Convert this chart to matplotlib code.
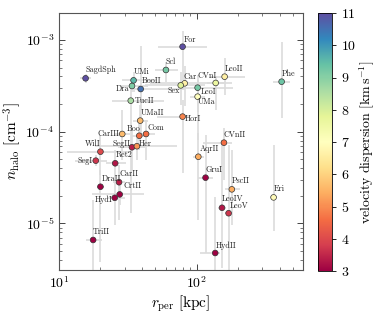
import matplotlib
matplotlib.use("Agg")
import matplotlib.pyplot as plt
import numpy as np

plt.rcParams['font.family'] = ['cmr10', 'DejaVu Serif']
plt.rcParams['mathtext.fontset'] = 'cm'
plt.rcParams['axes.formatter.use_mathtext'] = True
plt.rcParams['axes.unicode_minus'] = False

names = ["For", "SagdSph", "Scl", "UMi", "BooII", "Dra", "TucII", "UMaII",
         "Car", "Sex", "CVnI", "LeoII", "LeoI", "UMa", "Phe", "HorI",
         "CVnII", "AqrII", "GruI", "PscII", "Eri", "LeoIV", "LeoV", "HydII",
         "CarIII", "Boo", "Com", "SegII", "Her", "WilI", "SegI", "Ret2",
         "DraII", "CarII", "CrtII", "HydI", "TriII"]
r_per = [79, 15.6, 59.8, 34.8, 39.2, 33.9, 33.2, 38.9,
         81.8, 76.6, 137.4, 159.6, 101.6, 101.6, 414, 79,
         157.8, 102.8, 116, 180, 362, 152.8, 170.6, 136.4,
         28.8, 38.3, 42.9, 33.9, 36.8, 20.0, 18.5, 25.6,
         20.0, 27.3, 27.6, 25.4, 17.7]
r_lo = [52.4, 14.2, 49.8, 28.7, 35.6, 27.7, 24.2, 34.5,
        45.8, 42.2, 118.6, 124.6, 75.7, 89.6, 358, 51.5,
        110.6, 94.5, 101.9, 160, 341, 142, 160, 105.7,
        25.5, 33.9, 37.5, 26.8, 18.3, 11.4, 13.1, 21.8,
        18.9, 24.7, 17.4, 22.7, 15.7]
r_hi = [118.9, 17.1, 73.5, 51.5, 82.2, 44.2, 57.9, 44.2,
        180, 115, 157.5, 224, 183, 115, 475, 89.6,
        180, 113, 131.5, 207, 381, 164, 180, 147,
        32.8, 42.9, 49.8, 42.2, 72.2, 32.8, 22.3, 30.5,
        21.2, 30.2, 41.4, 30.2, 20.5]
n_halo = [8.45e-4, 3.82e-4, 4.71e-4, 3.63e-4, 2.92e-4, 3.15e-4, 2.18e-4, 1.32e-4,
          3.37e-4, 3.2e-4, 3.4e-4, 3.98e-4, 3.02e-4, 2.41e-4, 3.51e-4, 1.46e-4,
          7.59e-5, 5.33e-5, 3.15e-5, 2.35e-5, 1.92e-5, 1.48e-5, 1.29e-5, 4.75e-6,
          9.44e-5, 9.03e-5, 9.44e-5, 6.76e-5, 6.94e-5, 6.05e-5, 4.83e-5, 4.52e-5,
          2.51e-5, 2.81e-5, 2.07e-5, 1.9e-5, 6.59e-6]
n_lo = [3.66e-4, 3.4e-4, 3.48e-4, 2.71e-4, 9.2e-5, 2.71e-4, 1.3e-5, 8.1e-5,
        1.9e-4, 1.96e-4, 1.72e-4, 2.54e-4, 1.64e-4, 8.1e-5, 1.41e-4, 3.54e-5,
        2.97e-5, 1.09e-5, 4.75e-6, 9.6e-6, 8.2e-6, 3.3e-6, 3.1e-6, 3.1e-6,
        4.9e-5, 6.3e-5, 4.9e-5, 3.83e-5, 4.9e-5, 3.38e-5, 4.2e-5, 2.97e-5,
        3.8e-6, 1.09e-5, 1.59e-5, 9.6e-6, 3.1e-6]
n_hi = [1.25e-3, 4.26e-4, 5.75e-4, 4.48e-4, 8.6e-4, 3.66e-4, 3.23e-4, 1.96e-4,
        5.2e-4, 4.48e-4, 4.05e-4, 6.37e-4, 4.15e-4, 3.66e-4, 9.5e-4, 2.22e-4,
        1.1e-4, 9.7e-5, 9.2e-5, 6.3e-5, 7.2e-5, 8.1e-5, 7.2e-5, 1.94e-5,
        1.73e-4, 1.34e-4, 1.34e-4, 1.04e-4, 8.5e-5, 9.2e-5, 5.6e-5, 6.3e-5,
        3.83e-5, 4.3e-5, 2.63e-5, 2.97e-5, 1.8e-5]
sigma_v = [11.0, 11.0, 9.2, 9.5, 10.5, 9.1, 8.6, 5.6,
           6.6, 7.9, 7.6, 6.6, 9.2, 7.0, 9.3, 4.9,
           4.6, 5.4, 2.9, 5.4, 6.9, 3.3, 3.7, 3.0,
           5.6, 4.6, 4.6, 3.4, 5.1, 4.0, 3.7, 3.3,
           3.0, 3.4, 2.7, 2.7, 3.0]

# label placement (pixel offsets, ha, va)
label_pos = {
    "For": (1, 3, 'left', 'bottom'), "SagdSph": (0, 4, 'left', 'bottom'),
    "Scl": (0, 4, 'left', 'bottom'), "UMi": (0, 4, 'left', 'bottom'),
    "BooII": (1, 4, 'left', 'bottom'), "Dra": (-3, -3, 'right', 'center'),
    "TucII": (4, 0, 'left', 'center'), "UMaII": (0, 4, 'left', 'bottom'),
    "Car": (-1, 2, 'left', 'bottom'), "Sex": (-1, -5, 'right', 'center'),
    "CVnI": (1, 3, 'right', 'bottom'), "LeoII": (0, 3.5, 'left', 'bottom'),
    "LeoI": (3, -4, 'left', 'center'), "UMa": (0, -5.5, 'left', 'center'),
    "Phe": (0, 3.5, 'left', 'bottom'), "HorI": (2, -2.5, 'left', 'center'),
    "CVnII": (0, 4, 'left', 'bottom'), "AqrII": (1, 4, 'left', 'bottom'),
    "GruI": (0, 4, 'left', 'bottom'), "PscII": (0, 4, 'left', 'bottom'),
    "Eri": (0, 4.5, 'left', 'bottom'), "LeoIV": (0, 5, 'left', 'bottom'),
    "LeoV": (1, 3, 'left', 'bottom'), "HydII": (0, 3.5, 'left', 'bottom'),
    "CarIII": (-3, 0, 'right', 'center'), "Boo": (1, 3, 'right', 'bottom'),
    "Com": (1, 1.5, 'left', 'bottom'), "SegII": (-1, 3, 'right', 'center'),
    "Her": (2, 2, 'left', 'center'), "WilI": (0, 4, 'right', 'bottom'),
    "SegI": (-3, 0, 'right', 'center'), "Ret2": (0, 4, 'left', 'bottom'),
    "DraII": (1, 3.5, 'left', 'bottom'), "CarII": (0, 4.5, 'left', 'bottom'),
    "CrtII": (4, 4, 'left', 'bottom'), "HydI": (-2, -1.5, 'right', 'center'),
    "TriII": (0, 4, 'left', 'bottom'),
}

W, H = 382, 318
fig = plt.figure(figsize=(W / 100, H / 100), dpi=100)
ax = fig.add_axes([59 / W, 1 - 270 / H, 244 / W, 257 / H])
cax = fig.add_axes([318 / W, 1 - 271 / H, 14 / W, 258 / H])

x = np.array(r_per); y = np.array(n_halo)
xerr = [x - np.array(r_lo), np.array(r_hi) - x]
yerr = [y - np.array(n_lo), np.array(n_hi) - y]
ax.errorbar(x, y, xerr=xerr, yerr=yerr, fmt='none', ecolor='#dcdcdc',
            elinewidth=1.2, capsize=0, zorder=1)
sc = ax.scatter(x, y, c=sigma_v, cmap='Spectral', vmin=3, vmax=11, s=17,
                edgecolors='#333333', linewidths=0.5, zorder=3)

px2pt = 72 / 100
for nm, xi, yi in zip(names, x, y):
    dx, dy, ha, va = label_pos[nm]
    ax.annotate(nm, (xi, yi), xytext=(dx * px2pt, dy * px2pt),
                textcoords='offset points', ha=ha, va=va, fontsize=5.8,
                color='#222222', zorder=4)

ax.set_xscale('log'); ax.set_yscale('log')
ax.set_xlim(10, 592)
ax.set_ylim(3.1e-6, 1.97e-3)
ax.tick_params(which='both', direction='in', top=True, right=True,
               labelsize=10, color='#444444')
ax.tick_params(which='major', length=4, width=0.7)
ax.tick_params(which='minor', length=2, width=0.5)
for s in ax.spines.values():
    s.set_color('#555555'); s.set_linewidth(0.8)
ax.set_xlabel(r"$r_{\rm per}\ [{\rm kpc}]$", fontsize=11, labelpad=2)
ax.set_ylabel(r"$n_{\rm halo}\ [{\rm cm}^{-3}]$", fontsize=11, labelpad=2)

cb = fig.colorbar(sc, cax=cax)
cb.set_ticks(range(3, 12))
cb.ax.tick_params(labelsize=10, length=3, width=0.6)
cb.outline.set_linewidth(0.6)
cb.set_label(r"${\rm velocity\ dispersion\ [km\,s^{-1}]}$", fontsize=10,
             labelpad=1)

fig.savefig("out.png", dpi=100)
